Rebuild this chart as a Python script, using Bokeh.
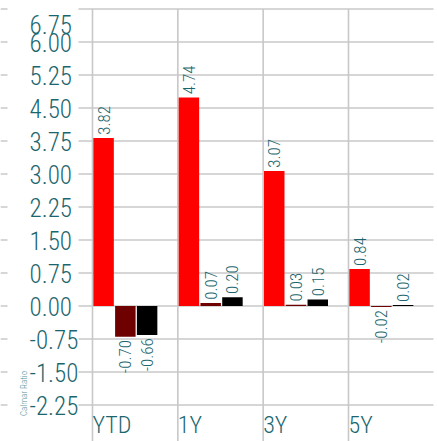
import math
from bokeh.plotting import figure
from bokeh.models import ColumnDataSource, Range1d
from bokeh.core.properties import value
from bokeh.embed import file_html
from bokeh.resources import INLINE

# ---- data ----
categories = ["YTD", "1Y", "3Y", "5Y"]
series_a = [3.82, 4.74, 3.07, 0.84]     # red
series_b = [-0.70, 0.07, 0.03, -0.02]   # dark red
series_c = [-0.66, 0.20, 0.15, 0.02]    # black
tick_values = [-2.25, -1.50, -0.75, 0.00, 0.75, 1.50, 2.25, 3.00, 3.75, 4.50, 5.25, 6.00, 6.75]
tick_labels = ["%.2f" % v for v in tick_values]
y_title = "Calmar Ratio"

# ---- layout constants (pixels) ----
W, H = 437, 441
PX_CAT = 85.33          # width of a category band in pixels
LEFT_PX = 92            # pixel of first category boundary
ZERO_PX = 305.5         # pixel row of value 0
PX_UNIT = 44.0          # pixels per unit

x0 = -LEFT_PX / PX_CAT
x1 = (W - LEFT_PX) / PX_CAT
y1 = ZERO_PX / PX_UNIT
y0 = -(H - ZERO_PX) / PX_UNIT

def px_to_x(px):
    return x0 + px / PX_CAT

FONT = "'Roboto Condensed Light', 'Roboto Light', 'Liberation Sans Narrow', 'Roboto'"
TEXT_COLOR = "#1b666e"
GRID_COLOR = "#c8c8c8"

p = figure(width=W, height=H, x_range=Range1d(x0, x1), y_range=Range1d(y0, y1),
           x_axis_type=None, y_axis_type=None, toolbar_location=None,
           output_backend="svg", min_border=0, outline_line_color=None)
p.background_fill_color = "white"
p.border_fill_color = "white"

# horizontal grid lines + left stubs
gl_x_start = px_to_x(78)
gl_x_end = px_to_x(433)
p.segment(x0=[gl_x_start] * len(tick_values), x1=[gl_x_end] * len(tick_values),
          y0=tick_values, y1=tick_values, line_color=GRID_COLOR, line_width=1.6)
p.segment(x0=[x0] * len(tick_values), x1=[px_to_x(7)] * len(tick_values),
          y0=tick_values, y1=tick_values, line_color=GRID_COLOR, line_width=1.6)

# vertical category boundary lines
cat_idx = list(range(len(categories)))
p.segment(x0=cat_idx, x1=cat_idx, y0=[tick_values[-1]] * len(cat_idx),
          y1=[y0] * len(cat_idx), line_color=GRID_COLOR, line_width=1.6)

# bars
offsets = [0.13, 0.385, 0.64]
colors = ["#ff0000", "#6f0000", "#000000"]
bw = 0.24
for series, off, col in zip([series_a, series_b, series_c], offsets, colors):
    xs = [i + off for i in cat_idx]
    src = ColumnDataSource(dict(x=xs, top=series, bottom=[0] * len(series)))
    p.vbar(x="x", top="top", bottom="bottom", width=bw, source=src,
           fill_color=col, line_color=None)
    # value labels
    pos = [(x, v) for x, v in zip(xs, series) if v >= 0]
    neg = [(x, v) for x, v in zip(xs, series) if v < 0]
    if pos:
        p.text(x=[a for a, _ in pos], y=[b + 0.07 for _, b in pos],
               text=["%.2f" % b for _, b in pos], angle=math.pi / 2,
               text_align="left", text_baseline="middle",
               text_font=value(FONT), text_font_size="17px", text_color=TEXT_COLOR)
    if neg:
        p.text(x=[a for a, _ in neg], y=[b - 0.07 for _, b in neg],
               text=["%.2f" % b for _, b in neg], angle=math.pi / 2,
               text_align="right", text_baseline="middle",
               text_font=value(FONT), text_font_size="17px", text_color=TEXT_COLOR)

# y tick labels
lab_x = px_to_x(29)
p.text(x=[lab_x] * (len(tick_values) - 1), y=tick_values[:-1], text=tick_labels[:-1],
       text_align="left", text_baseline="middle", text_font=value(FONT),
       text_font_size="25px", text_color=TEXT_COLOR)
p.text(x=[lab_x], y=[tick_values[-1]], text=[tick_labels[-1]], y_offset=15,
       text_align="left", text_baseline="middle", text_font=value(FONT),
       text_font_size="25px", text_color=TEXT_COLOR)

# y title
p.text(x=[px_to_x(23)], y=[(ZERO_PX - 393) / PX_UNIT], text=[y_title], angle=math.pi / 2,
       text_align="center", text_baseline="middle", text_font=value(FONT),
       text_font_size="9px", text_color="#4f8f97")

# category labels
p.text(x=cat_idx, y=[(ZERO_PX - 424.5) / PX_UNIT] * len(cat_idx), text=categories,
       text_align="left", text_baseline="middle", text_font=value(FONT),
       text_font_size="24px", text_color=TEXT_COLOR)

open("out.html", "w").write(file_html(p, INLINE))
